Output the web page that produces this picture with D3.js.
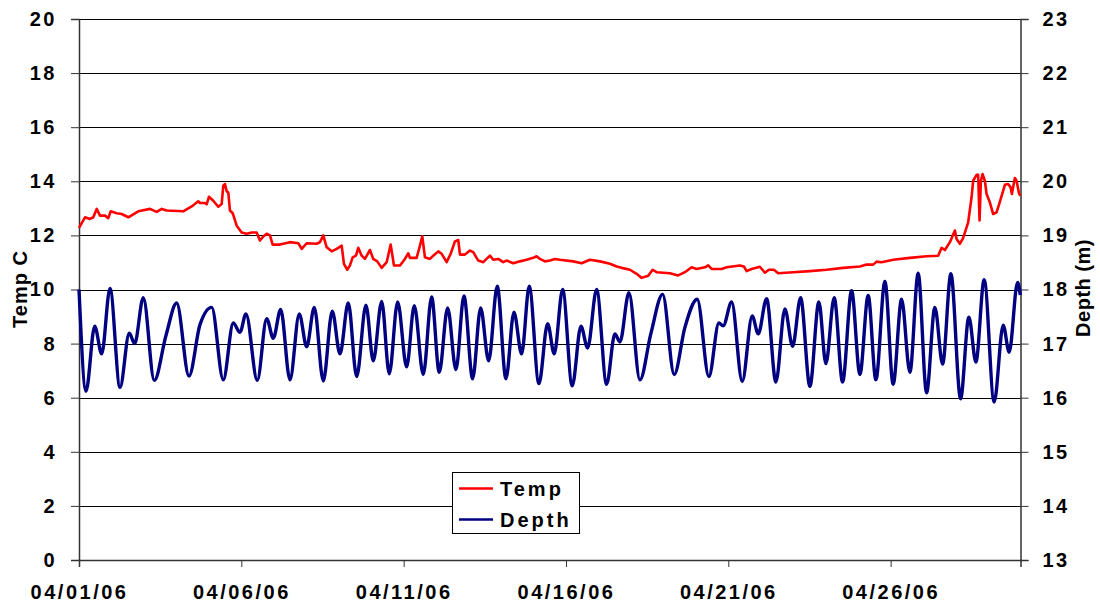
<!DOCTYPE html>
<html><head><meta charset="utf-8">
<script src="https://cdn.jsdelivr.net/npm/d3@7"></script>
<style>
html,body{margin:0;padding:0;background:#fff;}
text{font-family:Arial,"Liberation Sans",sans-serif;font-weight:bold;fill:#000;}
</style>
</head><body>
<svg id="chart" width="1100" height="608"></svg>
<script>
// ---- data (days since 04/01/06) ----
const xTickDays = [0, 5, 10, 15, 20, 25];
const xTickLabels = ["04/01/06", "04/06/06", "04/11/06", "04/16/06", "04/21/06", "04/26/06"];
const tempTicks = [0, 2, 4, 6, 8, 10, 12, 14, 16, 18, 20];
const depthTicks = [13, 14, 15, 16, 17, 18, 19, 20, 21, 22, 23];
const seriesNames = ["Temp", "Depth"];

const tempDays = [0.0,0.185,0.339,0.44,0.545,0.647,0.801,0.902,0.976,1.161,1.315,1.518,1.826,2.187,2.393,2.547,2.701,3.212,3.471,3.674,3.727,3.88,3.933,4.004,4.136,4.29,4.395,4.444,4.496,4.549,4.598,4.65,4.734,4.857,5.011,5.165,5.319,5.473,5.574,5.676,5.781,5.882,5.966,6.19,6.498,6.754,6.859,7.013,7.321,7.422,7.524,7.629,7.783,7.937,8.091,8.161,8.263,8.346,8.429,8.531,8.602,8.707,8.808,8.962,9.064,9.187,9.323,9.477,9.6,9.701,9.886,10.04,10.142,10.194,10.4,10.502,10.573,10.656,10.81,10.912,11.066,11.17,11.324,11.448,11.58,11.682,11.734,11.888,12.042,12.143,12.298,12.452,12.658,12.759,12.913,13.067,13.172,13.375,13.582,13.788,13.991,14.096,14.198,14.352,14.506,14.66,14.814,15.223,15.482,15.738,16.046,16.354,16.56,16.714,16.97,17.176,17.33,17.533,17.669,17.792,18.201,18.457,18.663,18.87,19.024,19.279,19.381,19.486,19.794,19.948,20.357,20.48,20.564,20.718,20.973,21.127,21.251,21.405,21.537,21.999,22.513,23.027,23.539,24.053,24.259,24.462,24.567,24.721,25.078,25.593,26.107,26.465,26.569,26.671,26.825,26.979,27.031,27.133,27.234,27.388,27.493,27.542,27.647,27.696,27.739,27.779,27.831,27.902,27.955,28.056,28.158,28.263,28.343,28.519,28.62,28.694,28.734,28.826,28.878,28.959,29.0];
const tempC = [12.28,12.67,12.61,12.67,12.98,12.73,12.73,12.64,12.89,12.82,12.79,12.67,12.89,12.98,12.87,12.98,12.92,12.89,13.07,13.26,13.2,13.2,13.15,13.43,13.28,13.06,13.16,13.84,13.9,13.63,13.59,12.92,12.82,12.36,12.11,12.06,12.11,12.11,11.81,11.96,12.06,12.0,11.66,11.66,11.75,11.71,11.5,11.71,11.69,11.75,12.0,11.56,11.41,11.5,11.62,10.95,10.73,10.89,11.19,11.25,11.54,11.25,11.13,11.46,11.13,11.04,10.8,11.01,11.66,10.89,10.89,11.13,11.34,11.17,11.17,11.62,11.97,11.19,11.13,11.25,11.41,11.32,11.01,11.32,11.78,11.83,11.29,11.29,11.44,11.38,11.07,11.01,11.25,11.1,11.13,11.01,11.07,10.97,11.04,11.1,11.17,11.23,11.13,11.04,11.07,11.13,11.1,11.04,10.97,11.1,11.04,10.95,10.85,10.8,10.73,10.58,10.43,10.51,10.73,10.64,10.6,10.52,10.64,10.82,10.76,10.82,10.89,10.76,10.76,10.82,10.89,10.85,10.68,10.76,10.84,10.62,10.73,10.73,10.6,10.64,10.68,10.73,10.8,10.85,10.92,10.92,11.03,11.01,11.1,11.17,11.23,11.25,11.54,11.46,11.75,12.18,11.87,11.69,11.91,12.48,13.41,14.02,14.24,14.24,12.55,14.0,14.27,14.02,13.53,13.22,12.79,12.85,13.16,13.87,13.9,13.78,13.53,14.12,14.02,13.53,13.47];

const depthDays = [0.0,0.216,0.484,0.699,0.955,1.263,1.549,1.715,1.98,2.319,2.679,3.009,3.388,3.727,4.087,4.444,4.752,4.958,5.143,5.491,5.781,5.984,6.212,6.498,6.785,7.013,7.247,7.524,7.801,8.038,8.294,8.553,8.839,9.064,9.323,9.557,9.815,10.092,10.327,10.604,10.862,11.096,11.355,11.611,11.857,12.125,12.371,12.618,12.883,13.151,13.397,13.634,13.868,14.167,14.435,14.638,14.897,15.192,15.461,15.667,15.944,16.252,16.507,16.662,16.939,17.278,17.616,17.977,18.334,18.663,19.042,19.402,19.71,19.843,20.102,20.428,20.736,20.921,21.18,21.466,21.743,21.98,22.227,22.513,22.79,23.006,23.261,23.52,23.797,24.053,24.308,24.546,24.823,25.078,25.337,25.593,25.848,26.107,26.363,26.6,26.856,27.154,27.41,27.626,27.881,28.189,28.467,28.651,28.91,28.995];
const depthM = [18.0,16.12,17.32,16.81,18.02,16.19,17.19,17.0,17.85,16.32,17.15,17.75,16.4,17.35,17.67,16.33,17.38,17.21,17.55,16.32,17.46,17.1,17.63,16.33,17.55,16.94,17.67,16.31,17.6,16.81,17.75,16.39,17.71,16.68,17.78,16.44,17.77,16.57,17.7,16.43,17.86,16.47,17.66,16.52,17.88,16.35,17.66,16.68,18.06,16.35,17.58,16.81,18.06,16.26,17.37,16.81,18.0,16.22,17.32,16.92,18.0,16.25,17.18,17.03,17.94,16.33,17.19,17.91,16.43,17.3,17.82,16.39,17.38,17.33,17.77,16.3,17.51,17.18,17.83,16.29,17.64,16.95,17.85,16.21,17.77,16.63,17.85,16.29,17.98,16.43,17.89,16.33,18.15,16.25,17.82,16.47,18.3,16.09,17.67,16.62,18.29,15.98,17.49,16.66,18.18,15.92,17.34,16.84,18.13,17.9];

// ---- layout ----
const svg = d3.select("#chart");
const L = 79, R = 1020.5, T = 19, B = 560;
const x = d3.scaleLinear().domain([0, 29]).range([L, R]);
const yT = d3.scaleLinear().domain([0, 20]).range([B, T]);
const yD = d3.scaleLinear().domain([13, 23]).range([B, T]);

svg.append("rect").attr("width", 1100).attr("height", 608).attr("fill", "#fff");

// gridlines
svg.append("g").selectAll("line").data(tempTicks).join("line")
  .attr("x1", L).attr("x2", R)
  .attr("y1", d => Math.round(yT(d)) + 0.5).attr("y2", d => Math.round(yT(d)) + 0.5)
  .attr("stroke", "#000").attr("stroke-width", 1);

// left axis
const gl = svg.append("g").attr("transform", `translate(${L},0)`)
  .call(d3.axisLeft(yT).tickValues(tempTicks).tickSize(8).tickPadding(14).tickFormat(d3.format("d")));
// right axis
const gr = svg.append("g").attr("transform", `translate(${R},0)`)
  .call(d3.axisRight(yD).tickValues(depthTicks).tickSize(8).tickPadding(14).tickFormat(d3.format("d")));
// bottom axis
const gb = svg.append("g").attr("transform", `translate(0,${B})`)
  .call(d3.axisBottom(x).tickValues(xTickDays).tickSize(7).tickPadding(14)
    .tickFormat((d, i) => xTickLabels[i]));

[gl, gr, gb].forEach(g => {
  g.select(".domain").attr("stroke", "#333").attr("stroke-width", 1.5);
  g.selectAll(".tick line").attr("stroke", "#333").attr("stroke-width", 1);
  g.selectAll(".tick text").attr("font-size", 20).attr("font-weight", "bold")
    .attr("font-family", "Arial, 'Liberation Sans', sans-serif")
    .attr("letter-spacing", "2.5px").attr("fill", "#000");
});
gb.selectAll(".tick text").attr("dy", "0.9em");

// lines
const tempLine = d3.line().x((d, i) => x(tempDays[i])).y(d => yT(d));
svg.append("path").datum(tempC).attr("d", tempLine)
  .attr("fill", "none").attr("stroke", "#ff0000").attr("stroke-width", 2.6)
  .attr("stroke-linejoin", "round");

const depthLine = d3.line().x((d, i) => x(depthDays[i])).y(d => yD(d)).curve(d3.curveMonotoneX);
svg.append("path").datum(depthM).attr("d", depthLine)
  .attr("fill", "none").attr("stroke", "#000080").attr("stroke-width", 3.4)
  .attr("stroke-linejoin", "round");

// axis titles
svg.append("text").attr("transform", "translate(27,289) rotate(-90)")
  .attr("text-anchor", "middle").attr("font-size", 20).attr("letter-spacing", "1px").text("Temp C");
svg.append("text").attr("transform", "translate(1090,288) rotate(-90)")
  .attr("text-anchor", "middle").attr("font-size", 20).attr("letter-spacing", "0.5px").text("Depth (m)");

// legend
const lg = svg.append("g");
lg.append("rect").attr("x", 452.5).attr("y", 472.5).attr("width", 127).attr("height", 61)
  .attr("fill", "#fff").attr("stroke", "#000").attr("stroke-width", 1);
const legColors = ["#ff0000", "#000080"];
seriesNames.forEach((n, i) => {
  const yy = 488.5 + i * 31;
  lg.append("line").attr("x1", 459).attr("x2", 493).attr("y1", yy).attr("y2", yy)
    .attr("stroke", legColors[i]).attr("stroke-width", 2.5);
  lg.append("text").attr("x", 500).attr("y", yy + 7.5).attr("font-size", 20)
    .attr("letter-spacing", "3px").text(n);
});
</script>
</body></html>
